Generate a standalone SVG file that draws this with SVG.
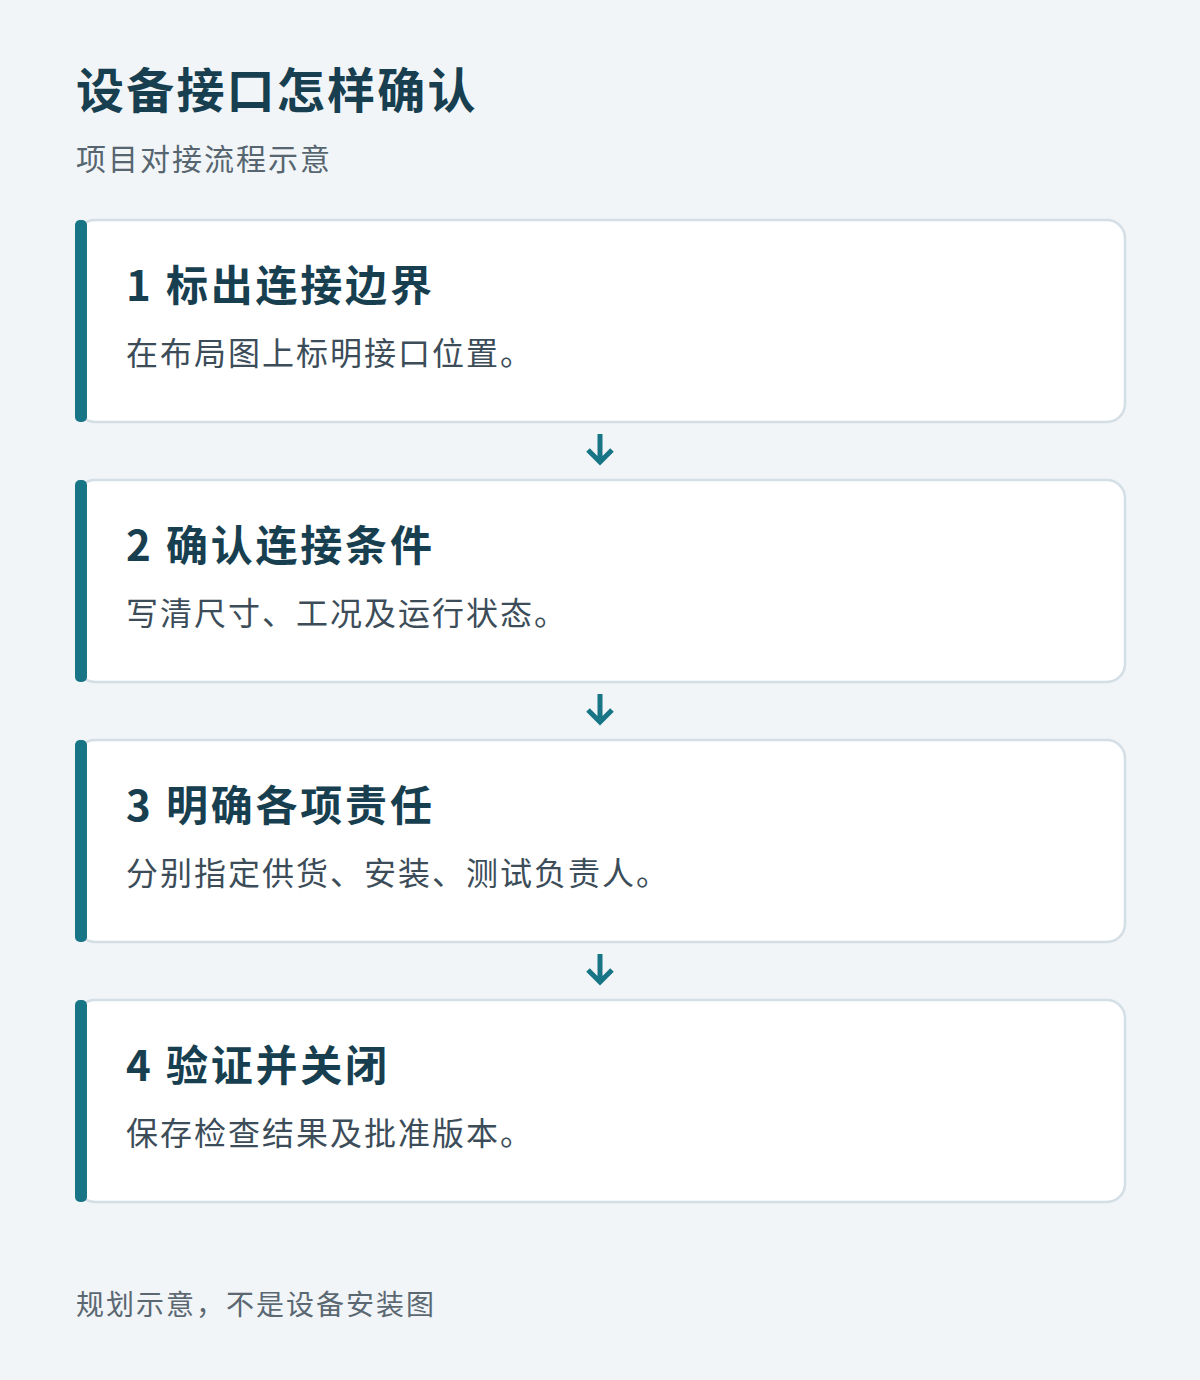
<svg xmlns="http://www.w3.org/2000/svg" width="1200" height="1380" viewBox="0 0 1200 1380">
<style>
.t{font-family:"Noto Sans CJK SC","Noto Sans",sans-serif}
.h1{font-size:48px;font-weight:700;fill:#173f50;letter-spacing:2.2px}
.sub{font-size:30px;fill:#56656f;letter-spacing:2px}
.ct{font-size:42px;font-weight:700;fill:#173f50;letter-spacing:2.8px}
.cd{font-size:32px;fill:#3c4d59;letter-spacing:2px}
.ft{font-size:28px;fill:#5b6872;letter-spacing:2px}
.card{fill:#ffffff;stroke:#d3dee5;stroke-width:2.5}
.bar{fill:#177585}
.arr{fill:none;stroke:#177585;stroke-width:5}
</style>
<rect x="0" y="0" width="1200" height="1380" fill="#f1f5f8"/>
<text class="t h1" x="76" y="108">设备接口怎样确认</text>
<text class="t sub" x="76" y="170">项目对接流程示意</text>
<g id="connectors">
<path class="arr" d="M600 434V461M588 450L600 462L612 450"/>
<path class="arr" d="M600 694V721M588 710L600 722L612 710"/>
<path class="arr" d="M600 954V981M588 970L600 982L612 970"/>
</g>
<g id="step1">
<rect class="card" x="77" y="220" width="1048" height="202" rx="18"/>
<rect class="bar" x="75" y="220" width="12" height="202" rx="5"/>
<text class="t ct" x="126" y="301">1 标出连接边界</text>
<text class="t cd" x="126" y="365">在布局图上标明接口位置。</text>
</g>
<g id="step2">
<rect class="card" x="77" y="480" width="1048" height="202" rx="18"/>
<rect class="bar" x="75" y="480" width="12" height="202" rx="5"/>
<text class="t ct" x="126" y="561">2 确认连接条件</text>
<text class="t cd" x="126" y="625">写清尺寸、工况及运行状态。</text>
</g>
<g id="step3">
<rect class="card" x="77" y="740" width="1048" height="202" rx="18"/>
<rect class="bar" x="75" y="740" width="12" height="202" rx="5"/>
<text class="t ct" x="126" y="821">3 明确各项责任</text>
<text class="t cd" x="126" y="885">分别指定供货、安装、测试负责人。</text>
</g>
<g id="step4">
<rect class="card" x="77" y="1000" width="1048" height="202" rx="18"/>
<rect class="bar" x="75" y="1000" width="12" height="202" rx="5"/>
<text class="t ct" x="126" y="1081">4 验证并关闭</text>
<text class="t cd" x="126" y="1145">保存检查结果及批准版本。</text>
</g>
<text class="t ft" x="76" y="1315">规划示意，不是设备安装图</text>
</svg>
